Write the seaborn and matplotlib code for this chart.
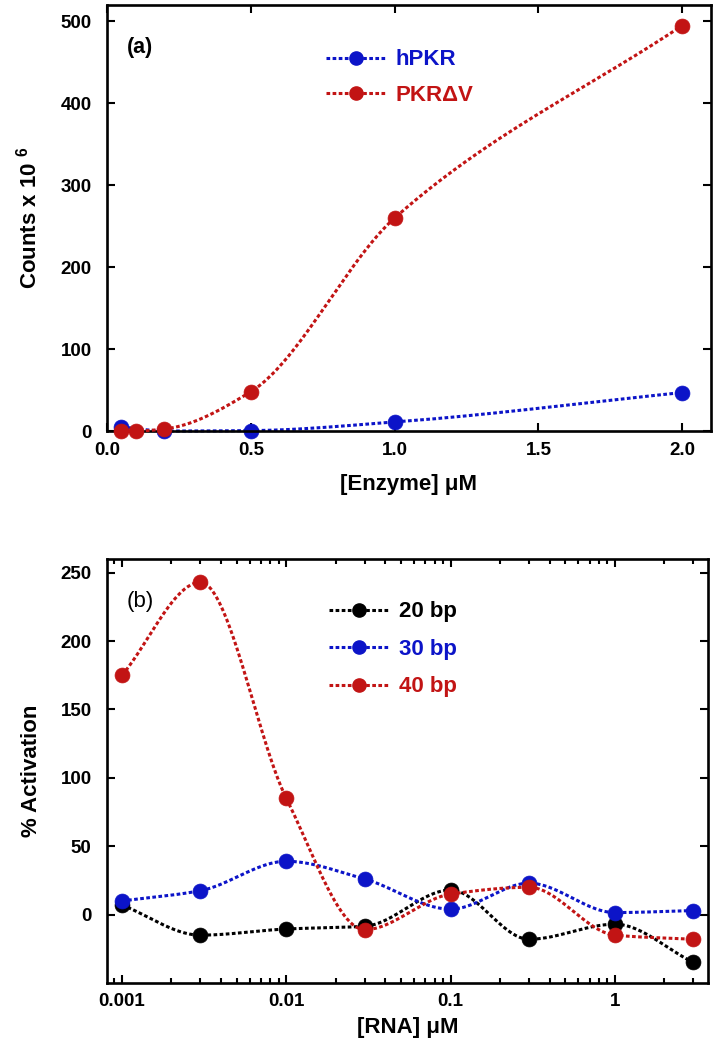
import numpy as np
import matplotlib
matplotlib.use("Agg")
import matplotlib.pyplot as plt
import seaborn as sns
from matplotlib.lines import Line2D
from matplotlib import ticker

sns.set_style("ticks")
plt.rcParams['font.family'] = ['Liberation Sans', 'DejaVu Sans']
plt.rcParams['font.weight'] = 'bold'
plt.rcParams['text.color'] = 'black'
plt.rcParams['axes.labelcolor'] = 'black'
plt.rcParams['xtick.color'] = 'black'
plt.rcParams['ytick.color'] = 'black'
plt.rcParams['mathtext.fontset'] = 'custom'
plt.rcParams['mathtext.rm'] = 'Liberation Sans:bold'
plt.rcParams['mathtext.default'] = 'rm'

# panel (a) data
enzyme_hpkr = [0.05, 0.2, 0.5, 1.0, 2.0]
counts_hpkr = [5, 0, 0.5, 11, 47]
enzyme_dv = [0.05, 0.1, 0.2, 0.5, 1.0, 2.0]
counts_dv = [0, 0, 2.5, 48, 260, 495]

# panel (b) data
rna_conc = [0.001, 0.003, 0.01, 0.03, 0.1, 0.3, 1, 3]
act_20 = [7, -15, -10.5, -8.5, 18, -18, -7, -35]
act_30 = [10, 17.5, 39, 26, 4, 23, 1.5, 3]
act_40 = [175, 243, 85, -11, 15, 20, -15, -18]

BLUE = "#0c14c8"
RED = "#c21414"
BLACK = "#000000"
DOT = (0, (1.2, 0.8))


#shape preserving slopes for the connecting curve
def pchip_slopes(x, y):
    h = np.diff(x)
    d = np.diff(y) / h
    k = len(x)
    m = np.zeros(k)
    for i in range(1, k - 1):
        if d[i - 1] * d[i] <= 0:
            m[i] = 0
        else:
            w1 = 2 * h[i] + h[i - 1]
            w2 = h[i] + 2 * h[i - 1]
            m[i] = (w1 + w2) / (w1 / d[i - 1] + w2 / d[i])
    # ends: one sided
    m[0] = d[0]
    m[-1] = d[-1]
    return m


def smooth_curve(x, y, n=50):
    x = np.asarray(x, float)
    y = np.asarray(y, float)
    m = pchip_slopes(x, y)
    xs, ys = [], []
    for i in range(len(x) - 1):
        h = x[i + 1] - x[i]
        t = np.linspace(0, 1, n)
        h00 = 2 * t**3 - 3 * t**2 + 1
        h10 = t**3 - 2 * t**2 + t
        h01 = -2 * t**3 + 3 * t**2
        h11 = t**3 - t**2
        xs.append(x[i] + t * h)
        ys.append(h00 * y[i] + h10 * h * m[i] + h01 * y[i + 1] + h11 * h * m[i + 1])
    return np.concatenate(xs), np.concatenate(ys)


def draw_series(ax, x, y, color, z, logx=False):
    if logx:
        cx, cy = smooth_curve(np.log10(x), y)
        cx = 10**cx
    else:
        cx, cy = smooth_curve(x, y)
    sns.lineplot(x=cx, y=cy, sort=False, estimator=None, ax=ax, color=color,
                 lw=2.2, linestyle=DOT, zorder=z, clip_on=False)
    sns.scatterplot(x=x, y=y, ax=ax, color=color, s=115, edgecolor=color,
                    linewidth=0.5, zorder=z + 0.5, clip_on=False)


def style_axes(ax):
    for sp in ax.spines.values():
        sp.set_linewidth(1.9)
        sp.set_color("black")
    ax.tick_params(which='both', direction='in', top=True, right=True,
                   width=1.5, labelsize=13.5)
    ax.tick_params(which='major', length=6)
    ax.tick_params(which='minor', length=3.5)
    for lab in ax.get_xticklabels() + ax.get_yticklabels():
        lab.set_fontweight('bold')


def add_legend(ax, labels, colors, anchor, spacing):
    handles = [Line2D([], [], color=c, lw=2.2, linestyle=DOT, marker='o',
                      markersize=9.5, markeredgecolor=c) for c in colors]
    leg = ax.legend(handles, labels, loc='upper left', bbox_to_anchor=anchor,
                    frameon=False, borderpad=0, borderaxespad=0,
                    handlelength=2.7, handletextpad=0.45, labelspacing=spacing,
                    numpoints=1, prop={'size': 16, 'weight': 'bold'})
    for t, c in zip(leg.get_texts(), colors):
        t.set_color(c)


fig = plt.figure(figsize=(7.16, 10.5), dpi=100)
ax1 = fig.add_axes([0.1494, 0.5895, 0.8436, 0.4057])
ax2 = fig.add_axes([0.1494, 0.0638, 0.8396, 0.4038])

#panel a
draw_series(ax1, enzyme_hpkr, counts_hpkr, BLUE, 2)
draw_series(ax1, enzyme_dv, counts_dv, RED, 3)
ax1.set_xlim(0, 2.1)
ax1.set_ylim(0, 520)
ax1.set_xticks([0, 0.5, 1.0, 1.5, 2.0])
ax1.set_xticklabels(["0.0", "0.5", "1.0", "1.5", "2.0"])
ax1.set_yticks([0, 100, 200, 300, 400, 500])
style_axes(ax1)
ax1.tick_params(axis='y', pad=11)
ax1.tick_params(axis='x', pad=8)
ax1.set_xlabel("[Enzyme] μM", fontsize=16, fontweight='bold', va='top')
ax1.set_ylabel(r"Counts x 10 $^{6}$", fontsize=16, fontweight='bold')
ax1.xaxis.set_label_coords(0.5, -0.1)
ax1.yaxis.set_label_coords(-0.108, 0.5)
ax1.text(0.033, 0.9, "(a)", transform=ax1.transAxes, fontsize=15.5,
         fontweight='bold', va='center', ha='left')
add_legend(ax1, ["hPKR", "PKRΔV"], [BLUE, RED], (0.3626, 0.896), 0.66)

#panel b
ax2.set_xscale('log')
draw_series(ax2, rna_conc, act_20, BLACK, 2, logx=True)
draw_series(ax2, rna_conc, act_30, BLUE, 3, logx=True)
draw_series(ax2, rna_conc, act_40, RED, 4, logx=True)
ax2.set_xlim(0.00081, 3.69)
ax2.set_ylim(-50, 260)
ax2.xaxis.set_major_locator(ticker.FixedLocator([0.001, 0.01, 0.1, 1]))
ax2.xaxis.set_major_formatter(ticker.FixedFormatter(["0.001", "0.01", "0.1", "1"]))
ax2.xaxis.set_minor_locator(ticker.LogLocator(base=10, subs=np.arange(2, 10)))
ax2.xaxis.set_minor_formatter(ticker.NullFormatter())
ax2.set_yticks([0, 50, 100, 150, 200, 250])
style_axes(ax2)
ax2.tick_params(axis='y', pad=11)
ax2.tick_params(axis='x', pad=7)
ax2.set_xlabel("[RNA] μM", fontsize=16, fontweight='bold', va='top')
ax2.set_ylabel("% Activation", fontsize=16, fontweight='bold')
ax2.xaxis.set_label_coords(0.5, -0.08)
ax2.yaxis.set_label_coords(-0.108, 0.5)
ax2.text(0.033, 0.9, "(b)", transform=ax2.transAxes, fontsize=16,
         fontweight='normal', va='center', ha='left')
add_legend(ax2, ["20 bp", "30 bp", "40 bp"], [BLACK, BLUE, RED], (0.369, 0.9), 0.74)

fig.savefig("out.png", dpi=100)
